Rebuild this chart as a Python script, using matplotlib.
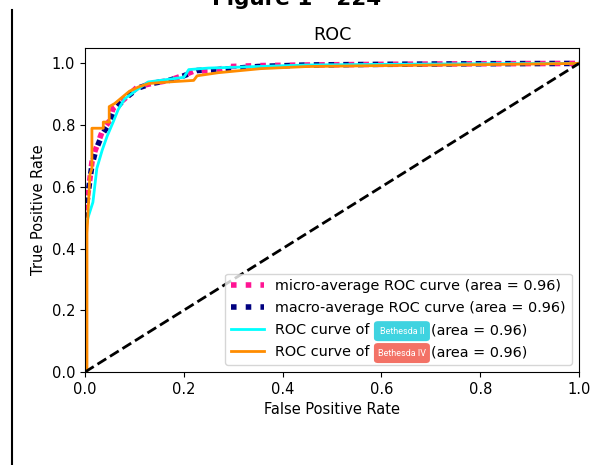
import matplotlib
matplotlib.use("Agg")
import matplotlib.pyplot as plt
from matplotlib.lines import Line2D
from matplotlib.patches import FancyBboxPatch

W, H = 593, 465
plt.rcParams["font.size"] = 10.5

# ---- data ----
micro_fpr = [0.0, 0.0, 0.0, 0.008, 0.014, 0.02, 0.035, 0.05, 0.057, 0.08, 0.107, 0.135, 0.17, 0.197, 0.22, 0.26, 0.294, 0.355, 0.45, 0.6, 0.8, 1.0]
micro_tpr = [0.0, 0.3, 0.52, 0.60, 0.68, 0.715, 0.78, 0.815, 0.855, 0.885, 0.925, 0.935, 0.945, 0.96, 0.975, 0.977, 0.99, 0.993, 0.995, 0.997, 0.999, 1.0]

macro_fpr = [0.0, 0.008, 0.014, 0.022, 0.035, 0.047, 0.06, 0.08, 0.107, 0.135, 0.17, 0.2, 0.227, 0.27, 0.35, 0.45, 0.6, 0.8, 1.0]
macro_tpr = [0.50, 0.60, 0.67, 0.72, 0.77, 0.80, 0.85, 0.885, 0.92, 0.935, 0.945, 0.96, 0.977, 0.98, 0.99, 0.995, 0.997, 0.999, 1.0]

class1_fpr = [0.0, 0.0, 0.006, 0.016, 0.024, 0.035, 0.045, 0.057, 0.067, 0.08, 0.11, 0.128, 0.2, 0.21, 0.25, 0.35, 0.45, 0.6, 0.8, 1.0]
class1_tpr = [0.0, 0.45, 0.50, 0.55, 0.66, 0.72, 0.765, 0.81, 0.85, 0.885, 0.92, 0.94, 0.955, 0.98, 0.985, 0.99, 0.995, 0.997, 0.999, 1.0]

class2_fpr = [0.0, 0.004, 0.004, 0.010, 0.014, 0.014, 0.037, 0.037, 0.049, 0.049, 0.06, 0.075, 0.09, 0.11, 0.13, 0.17, 0.22, 0.227, 0.27, 0.355, 0.45, 0.6, 0.8, 1.0]
class2_tpr = [0.0, 0.0, 0.45, 0.64, 0.66, 0.79, 0.79, 0.81, 0.81, 0.86, 0.87, 0.89, 0.91, 0.925, 0.935, 0.94, 0.945, 0.96, 0.97, 0.983, 0.99, 0.993, 0.996, 1.0]

class_names = ["Bethesda II", "Bethesda IV"]
areas = [0.96, 0.96, 0.96, 0.96]

LEG_FS = 10.35

fig = plt.figure(figsize=(W / 100, H / 100), dpi=100)
ax = fig.add_axes([85 / W, 1 - 372 / H, (579 - 85) / W, (372 - 48) / H])

ax.plot(micro_fpr, micro_tpr, color="deeppink", linestyle=":", linewidth=4,
        label="micro-average ROC curve (area = {0:0.2f})".format(areas[0]))
ax.plot(macro_fpr, macro_tpr, color="navy", linestyle=":", linewidth=4,
        label="macro-average ROC curve (area = {0:0.2f})".format(areas[1]))
ax.plot(class1_fpr, class1_tpr, color="aqua", linewidth=2, label="ROC curve of")
ax.plot(class2_fpr, class2_tpr, color="darkorange", linewidth=2, label="ROC curve of")
ax.plot([0, 1], [0, 1], "k--", lw=2)

ax.set_xlim(0.0, 1.0)
ax.set_ylim(0.0, 1.05)
ax.set_xlabel("False Positive Rate")
ax.set_ylabel("True Positive Rate")
ax.set_title("ROC")
leg = ax.legend(loc="lower right", handlelength=2.3, fontsize=LEG_FS,
                labelspacing=0.55)

# page decoration
fig.text(0.5, 1 - 5 / H, "Figure 1 - 224", ha="center", va="baseline",
         fontsize=15.5, fontweight="bold")
fig.add_artist(Line2D([12 / W, 12 / W], [0, 1 - 10 / H], transform=fig.transFigure,
                      color="black", linewidth=1.5))

# overlays in the legend, placed after the legend text
fig.canvas.draw()
renderer = fig.canvas.get_renderer()
box_colors = ["#3fd3e0", "#f37266"]
for i, (name, color) in enumerate(zip(class_names, box_colors)):
    bb = leg.get_texts()[2 + i].get_window_extent(renderer)
    x0 = bb.x1 + 4
    x1 = x0 + 56
    yc = (bb.y0 + bb.y1) / 2 - 1
    p = FancyBboxPatch((x0 / W, (yc - 10) / H), (x1 - x0) / W, 20 / H,
                       boxstyle="round,pad=0,rounding_size=0.007",
                       transform=fig.transFigure, facecolor=color,
                       edgecolor="none", zorder=10)
    fig.add_artist(p)
    fig.text((x0 + x1) / 2 / W, yc / H, name, color="white",
             fontsize=6.5, ha="center", va="center", zorder=11, family="Roboto")
    fig.text((x1 + 1) / W, (bb.y0 + bb.y1) / 2 / H,
             "(area = {0:0.2f})".format(areas[2 + i]), fontsize=LEG_FS,
             ha="left", va="center", zorder=11)

fig.savefig("out.png", dpi=100)
